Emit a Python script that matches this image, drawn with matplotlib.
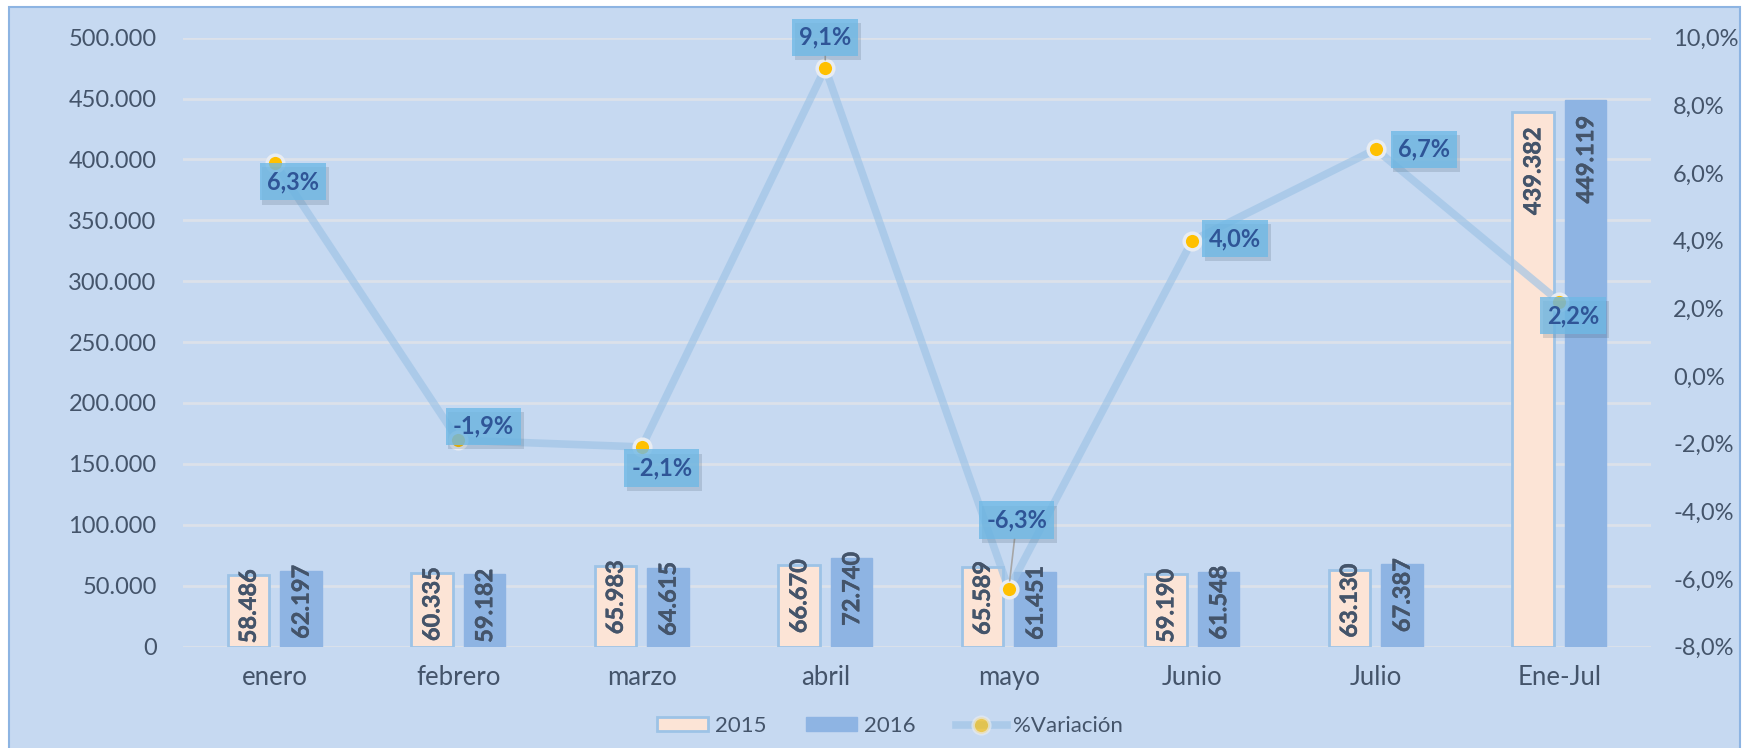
import matplotlib
matplotlib.use("Agg")
from matplotlib import pyplot as plt
from matplotlib.patches import Rectangle
from matplotlib.ticker import FuncFormatter, MultipleLocator
from matplotlib.lines import Line2D
from matplotlib.patches import Patch
import matplotlib.patheffects as pe

# data
months = ["enero", "febrero", "marzo", "abril", "mayo", "Junio", "Julio", "Ene-Jul"]
y2015 = [58486, 60335, 65983, 66670, 65589, 59190, 63130, 439382]
y2016 = [62197, 59182, 64615, 72740, 61451, 61548, 67387, 449119]
variacion = [6.3, -1.9, -2.1, 9.1, -6.3, 4.0, 6.7, 2.2]
# label offsets (px) for the % labels, like they were moved by hand in excel
label_dx = [18, 25, 20, 0, 8, 43, 48, 14]
label_dy = [-19, 14, -21, 31, 69, 2, 0, -14]

bg = "#C6D9F1"
txt = "#44546A"
plt.rcParams["font.family"] = ["Lato", "DejaVu Sans"]

fig = plt.figure(figsize=(17.47, 7.48), dpi=100, facecolor="white")
fig.patches.append(Rectangle((9 / 1747, -0.01), 1731 / 1747, 1 - 7 / 748 + 0.01,
                             transform=fig.transFigure, facecolor=bg,
                             edgecolor="#8DB4E2", lw=1.5, zorder=-10))

ax = fig.add_axes([183 / 1747, 101.5 / 748, 1468 / 1747, 608.8 / 748])
ax.set_facecolor("none")
for s in ax.spines.values():
    s.set_visible(False)

x = list(range(len(months)))
w = 0.226
off = 0.144
ax.bar([i - off for i in x], y2015, w, color="#FCE4D6", edgecolor="#9DC3E6", lw=2, zorder=2)
ax.bar([i + off for i in x], y2016, w, color="#8EB4E3", edgecolor="#8EB4E3", lw=1, zorder=2)

ax.set_ylim(0, 500000)
ax.set_xlim(-0.5, len(months) - 0.5)
ax.yaxis.set_major_locator(MultipleLocator(50000))
ax.yaxis.set_major_formatter(FuncFormatter(lambda v, p: f"{int(v):,}".replace(",", ".")))
ax.grid(axis="y", color="#DCE1EA", lw=2, zorder=0)
ax.set_axisbelow(True)
ax.set_xticks(x)
ax.set_xticklabels(months)
ax.tick_params(axis="y", length=0, pad=19, labelsize=17, labelcolor=txt)
ax.tick_params(axis="x", length=0, pad=13, labelsize=18.5, labelcolor=txt)

# value labels inside the bars
for vals, sign in ((y2015, -1), (y2016, 1)):
    for i, v in enumerate(vals):
        dy = -16 if v > 200000 else 6
        ax.annotate(f"{v:,}".replace(",", "."), (i + sign * off, v), xytext=(0, dy),
                    textcoords="offset pixels", rotation=90, ha="center", va="top",
                    fontsize=17, fontweight="bold", color=txt, zorder=3,
                    path_effects=[pe.withStroke(linewidth=0.3, foreground=txt)])

# % variation on the right axis
ax2 = ax.twinx()
for s in ax2.spines.values():
    s.set_visible(False)
ax2.set_ylim(-8, 10)
ax2.yaxis.set_major_locator(MultipleLocator(2))
ax2.yaxis.set_major_formatter(FuncFormatter(lambda v, p: f"{v:.1f}%".replace(".", ",")))
ax2.tick_params(axis="y", length=0, pad=16, labelsize=17, labelcolor=txt)

ax2.plot(x, variacion, color="#9DC3E6", lw=5.5, alpha=0.65, solid_capstyle="round", zorder=3)
ax2.plot(x, variacion, ls="none", marker="o", ms=12, mfc="#FFC000", mec="#E8ECF2",
         mew=2.5, zorder=4)

for i, v in enumerate(variacion):
    leader = i in (3, 4)
    t = ax2.annotate(f"{v:.1f}%".replace(".", ","), (i, v),
                     xytext=(label_dx[i], label_dy[i]), textcoords="offset pixels",
                     ha="center", va="center", fontsize=17, fontweight="bold",
                     color="#2F5597", zorder=5,
                     bbox=dict(boxstyle="square,pad=0.3", fc="#6FB9E6", ec="none", alpha=0.8),
                     arrowprops=dict(arrowstyle="-", color="#A6A6A6", lw=1.2,
                                     shrinkA=0, shrinkB=6) if leader else None)
    t.get_bbox_patch().set_path_effects([pe.SimplePatchShadow(offset=(2, -3), alpha=0.15),
                                         pe.Normal()])

handles = [Patch(facecolor="#FCE4D6", edgecolor="#9DC3E6", lw=2, label="2015"),
           Patch(facecolor="#8EB4E3", edgecolor="#8EB4E3", label="2016"),
           Line2D([], [], color="#9DC3E6", lw=5.5, alpha=0.65, marker="o", ms=12,
                  mfc="#FFC000", mec="#E8ECF2", mew=2.5, label="%Variación")]
fig.legend(handles=handles, loc="center", bbox_to_anchor=(890 / 1747, 1 - 726 / 748),
           ncol=3, frameon=False, fontsize=16, labelcolor=txt, handlelength=2.3,
           handleheight=0.6, handletextpad=0.3, columnspacing=1.8)

fig.savefig("out.png", dpi=100, facecolor=fig.get_facecolor())
